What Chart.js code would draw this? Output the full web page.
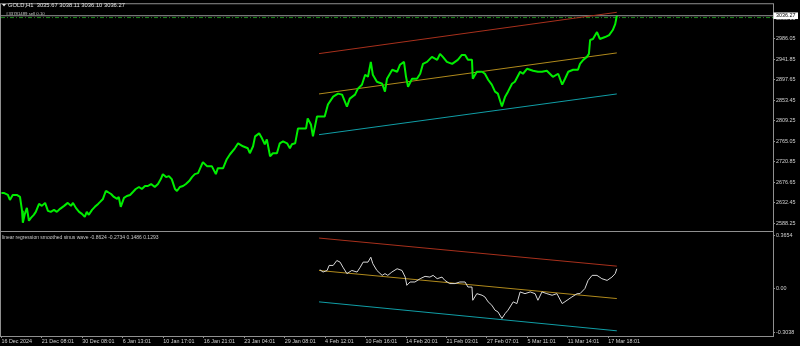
<!doctype html>
<html lang="en">
<head>
  <meta charset="utf-8">
  <title>GOLD,H1</title>
  <script src="https://cdn.jsdelivr.net/npm/chart.js"></script>
  <style>
    html, body { margin: 0; padding: 0; background: #000; }
  </style>
</head>
<body>
<canvas id="chart" width="800" height="346"></canvas>

<script>
  // time axis: one label every 100 H1 bars
  const timeTicks = [0, 100, 200, 300, 400, 500, 600, 700, 800, 900, 1000, 1100, 1200, 1300, 1400, 1500];
  const timeLabels = ['16 Dec 2024', '21 Dec 08:01', '30 Dec 08:01', '6 Jan 13:01', '10 Jan 17:01', '16 Jan 21:01',
    '23 Jan 04:01', '29 Jan 08:01', '4 Feb 12:01', '10 Feb 16:01', '14 Feb 20:01', '21 Feb 03:01',
    '27 Feb 07:01', '5 Mar 11:01', '11 Mar 14:01', '17 Mar 18:01'];

  const priceTicks = [3030.25, 2986.05, 2941.85, 2897.65, 2853.45, 2809.25, 2765.05, 2720.85, 2676.65, 2632.45, 2588.25];
  const waveTicks = [0.3654, 0, -0.3038];
  const waveTickLabels = ['0.3654', '0.00', '-0.3038'];

  const lastPrice = 3036.27;
  const orderPrice = 3032.3;

  // sampled closes (bar index, price)
  const priceBars = [0, 6, 16, 21, 28, 38, 46, 51, 53, 58,
    63, 68, 73, 80, 85, 93, 100, 108, 115, 122,
    130, 137, 145, 155, 164, 172, 177, 184, 192, 199,
    206, 211, 216, 224, 231, 239, 244, 251, 258, 263,
    271, 278, 286, 290, 295, 303, 310, 318, 325, 332,
    340, 347, 355, 362, 370, 379, 387, 394, 399, 407,
    414, 421, 429, 434, 441, 449, 456, 464, 471, 478,
    486, 498, 508, 520, 530, 535, 548, 557, 565, 577,
    585, 597, 609, 614, 622, 627, 637, 644, 651, 656,
    664, 671, 681, 688, 696, 706, 713, 718, 726, 733,
    743, 753, 757, 765, 770, 780, 787, 799, 807, 820,
    832, 842, 854, 861, 874, 881, 891, 899, 906, 913,
    918, 928, 941, 948, 953, 966, 978, 985, 995, 1000,
    1005, 1015, 1027, 1035, 1042, 1052, 1064, 1077, 1084, 1091,
    1101, 1114, 1121, 1128, 1138, 1146, 1153, 1163, 1165, 1175,
    1188, 1195, 1203, 1212, 1220, 1227, 1237, 1245, 1252, 1262,
    1269, 1282, 1289, 1299, 1314, 1326, 1336, 1348, 1363, 1376,
    1386, 1393, 1401, 1413, 1425, 1430, 1438, 1447, 1452, 1455,
    1462, 1472, 1479, 1492, 1502, 1511, 1517, 1521];
  const priceValues = [2653.6, 2653.6, 2649.3, 2638.6, 2649.3, 2649.3, 2645.0, 2615.0, 2589.2, 2608.5,
    2621.4, 2593.5, 2599.9, 2606.4, 2612.8, 2630.0, 2625.7, 2632.2, 2615.0, 2612.8,
    2617.1, 2612.8, 2619.3, 2625.7, 2632.2, 2625.7, 2632.2, 2621.4, 2612.8, 2608.5,
    2602.1, 2612.8, 2606.4, 2617.1, 2623.6, 2630.0, 2634.3, 2640.7, 2657.9, 2655.7,
    2651.4, 2645.0, 2640.7, 2645.0, 2623.6, 2642.9, 2647.1, 2649.3, 2655.7, 2662.2,
    2666.5, 2662.2, 2668.6, 2668.6, 2672.9, 2666.5, 2672.9, 2683.6, 2694.3, 2687.9,
    2690.0, 2683.6, 2662.2, 2657.9, 2666.5, 2668.6, 2672.9, 2679.3, 2687.9, 2694.3,
    2696.5, 2720.0, 2711.5, 2711.5, 2694.3, 2707.2, 2707.2, 2726.5, 2737.2, 2750.1,
    2760.8, 2754.4, 2750.1, 2739.4, 2754.4, 2775.8, 2782.3, 2771.6, 2758.7, 2769.4,
    2732.9, 2739.4, 2739.4, 2760.8, 2765.1, 2760.8, 2750.1, 2758.7, 2760.8, 2793.0,
    2793.0, 2793.0, 2814.4, 2801.6, 2775.8, 2818.7, 2818.7, 2818.7, 2844.5, 2861.6,
    2868.1, 2865.9, 2840.2, 2857.3, 2865.9, 2878.8, 2887.4, 2908.8, 2904.5, 2936.7,
    2908.8, 2893.8, 2889.5, 2872.4, 2900.3, 2919.6, 2915.3, 2930.3, 2936.7, 2904.5,
    2883.1, 2900.3, 2900.3, 2911.0, 2932.4, 2936.7, 2947.4, 2941.0, 2953.9, 2947.4,
    2936.7, 2932.4, 2936.7, 2941.0, 2951.7, 2951.7, 2941.0, 2941.0, 2900.3, 2915.3,
    2915.3, 2911.0, 2898.1, 2887.4, 2872.4, 2868.1, 2840.2, 2861.6, 2872.4, 2889.5,
    2893.8, 2915.3, 2911.0, 2921.7, 2917.4, 2915.3, 2915.3, 2917.4, 2904.5, 2911.0,
    2887.4, 2900.3, 2915.3, 2919.6, 2919.6, 2932.4, 2941.0, 2947.4, 2953.9, 2983.9,
    2986.1, 3001.1, 2986.1, 2990.3, 2994.6, 3005.4, 3018.2, 3036.3];

  // regression channel over the last part (start bar, end bar)
  const channelBars = [785, 1521];
  const channelUpper = [2954.5, 3043.7];
  const channelMiddle = [2867.4, 2956.0];
  const channelLower = [2779.5, 2867.4];

  // lower window: smoothed sinus wave
  const waveBars = [787, 795, 805, 810, 820, 829, 837, 844, 854, 866,
    879, 887, 894, 906, 913, 918, 928, 941, 948, 955,
    965, 978, 990, 998, 1002, 1010, 1022, 1035, 1047, 1059,
    1067, 1077, 1089, 1096, 1108, 1121, 1133, 1146, 1153, 1163,
    1165, 1175, 1188, 1195, 1203, 1212, 1220, 1227, 1237, 1245,
    1252, 1265, 1274, 1282, 1294, 1307, 1319, 1326, 1336, 1348,
    1361, 1373, 1386, 1398, 1410, 1423, 1430, 1442, 1450, 1460,
    1472, 1484, 1497, 1509, 1517, 1521];
  const waveValues = [0.131, 0.115, 0.126, 0.161, 0.161, 0.195, 0.184, 0.149, 0.104, 0.126,
    0.115, 0.149, 0.184, 0.184, 0.218, 0.173, 0.126, 0.092, 0.104, 0.092,
    0.115, 0.138, 0.126, 0.080, 0.023, 0.046, 0.046, 0.069, 0.085, 0.080,
    0.092, 0.069, 0.080, 0.057, 0.035, 0.035, 0.046, 0.046, 0.011, 0.011,
    -0.081, -0.035, -0.046, -0.058, -0.092, -0.115, -0.150, -0.161, -0.207, -0.173,
    -0.150, -0.092, -0.104, -0.023, -0.035, -0.023, -0.035, -0.081, -0.023, -0.035,
    -0.046, -0.035, -0.104, -0.081, -0.058, -0.035, -0.035, 0.000, 0.057, 0.092,
    0.092, 0.069, 0.057, 0.080, 0.104, 0.138];
  const waveUpper = [0.351, 0.156];
  const waveMiddle = [0.126, -0.069];
  const waveLower = [-0.092, -0.293];

  const xMin = -1, xMax = 1907;
  const FONT = 'Liberation Sans, Arial, sans-serif';
  const TXT = '#d2d2d2';
  const FRAME = '#8f8f8f';

  function pts(xs, ys) {
    return xs.map((x, i) => ({x: x, y: ys[i]}));
  }

  function seg(data, yAxis, color, order, extra) {
    return Object.assign({
      data: data, yAxisID: yAxis, borderColor: color, borderWidth: 1,
      pointRadius: 0, tension: 0, order: order
    }, extra || {});
  }

  var decor = {
    id: 'decor',
    afterDraw: function (chart) {
      var ctx = chart.ctx, a = chart.chartArea, yP = chart.scales.yPrice, yW = chart.scales.yInd;
      ctx.save();
      // frame and window separator
      ctx.strokeStyle = FRAME;
      ctx.lineWidth = 1;
      ctx.strokeRect(a.left - 0.5, a.top - 0.5, a.right - a.left + 1, a.bottom - a.top + 1);
      ctx.beginPath();
      ctx.moveTo(a.left, Math.round(yW.top) + 0.5);
      ctx.lineTo(a.right, Math.round(yW.top) + 0.5);
      ctx.stroke();

      // header
      ctx.fillStyle = '#e6e6e6';
      ctx.beginPath();
      ctx.moveTo(2, 4); ctx.lineTo(6, 4); ctx.lineTo(4, 6.5); ctx.closePath();
      ctx.fill();
      ctx.textBaseline = 'middle';
      ctx.textAlign = 'left';
      ctx.font = '5.8px ' + FONT;
      ctx.fillText('GOLD,H1  3035.67 3038.11 3036.10 3036.27', 8, 5.5);
      ctx.font = '4.3px ' + FONT;
      ctx.fillStyle = '#c8c8c8';
      ctx.fillText('#33781489 sell 0.10', 6, 13.5);
      ctx.font = '5px ' + FONT;
      ctx.fillText('linear regression smoothed sinus wave -0.8624 -0.2734 0.1486 0.1293', 2, yW.top + 7);

      // last price box on the price scale
      var py = yP.getPixelForValue(lastPrice);
      ctx.fillStyle = '#ffffff';
      ctx.fillRect(a.right + 0.5, py - 3.3, 24.5, 6.6);
      ctx.fillStyle = '#000000';
      ctx.font = '5.4px ' + FONT;
      ctx.fillText(lastPrice.toFixed(2), a.right + 3, py + 0.2);
      ctx.restore();
    }
  };

  var datasets = [
    seg(pts(priceBars, priceValues), 'yPrice', '#00ee00', 0, {borderWidth: 2, borderJoinStyle: 'bevel'}),
    seg(pts(channelBars, channelUpper), 'yPrice', '#a8301c', 1),
    seg(pts(channelBars, channelMiddle), 'yPrice', '#b08a1c', 1),
    seg(pts(channelBars, channelLower), 'yPrice', '#109ea6', 1),
    seg(pts([xMin, xMax], [lastPrice, lastPrice]), 'yPrice', '#9a9a9a', 3),
    seg(pts([xMin, xMax], [orderPrice, orderPrice]), 'yPrice', '#1d8a1d', 2, {borderDash: [4, 2, 1, 2]}),
    seg(pts(waveBars, waveValues), 'yInd', '#d8d8d8', 0),
    seg(pts(channelBars, waveUpper), 'yInd', '#a8301c', 1),
    seg(pts(channelBars, waveMiddle), 'yInd', '#b08a1c', 1),
    seg(pts(channelBars, waveLower), 'yInd', '#109ea6', 1)
  ];

  function yAxis(weight, min, max, ticks, labels) {
    return {
      type: 'linear', position: 'right', stack: 'windows', stackWeight: weight,
      min: min, max: max,
      afterBuildTicks: function (s) { s.ticks = ticks.map(v => ({value: v})); },
      afterFit: function (s) { s.width = 27; },
      border: {display: false},
      grid: {drawOnChartArea: false, drawTicks: true, tickLength: 2, color: FRAME},
      ticks: {
        autoSkip: false, padding: 1, color: TXT, font: {family: FONT, size: 5.4},
        callback: function (v, i) { return labels[i]; }
      }
    };
  }

  new Chart(document.getElementById('chart'), {
    type: 'line',
    data: {datasets: datasets},
    options: {
      responsive: false,
      animation: false,
      parsing: false,
      layout: {padding: {top: 2, left: 1, right: 0, bottom: 0}},
      plugins: {legend: {display: false}, tooltip: {enabled: false}},
      scales: {
        x: {
          type: 'linear', position: 'bottom', min: xMin, max: xMax,
          afterBuildTicks: function (s) { s.ticks = timeTicks.map(v => ({value: v})); },
          afterFit: function (s) { s.height = 10; },
          border: {display: false},
          grid: {drawOnChartArea: false, drawTicks: true, tickLength: 2, color: FRAME},
          ticks: {
            autoSkip: false, maxRotation: 0, align: 'start', padding: 0, color: TXT,
            font: {family: FONT, size: 5.4},
            callback: function (v, i) { return timeLabels[i]; }
          }
        },
        yPrice: yAxis(228, 2572.1, 3061.1, priceTicks, priceTicks.map(v => v.toFixed(2))),
        yInd: yAxis(106, -0.329, 0.402, waveTicks, waveTickLabels)
      }
    },
    plugins: [decor]
  });
</script>
</body>
</html>
